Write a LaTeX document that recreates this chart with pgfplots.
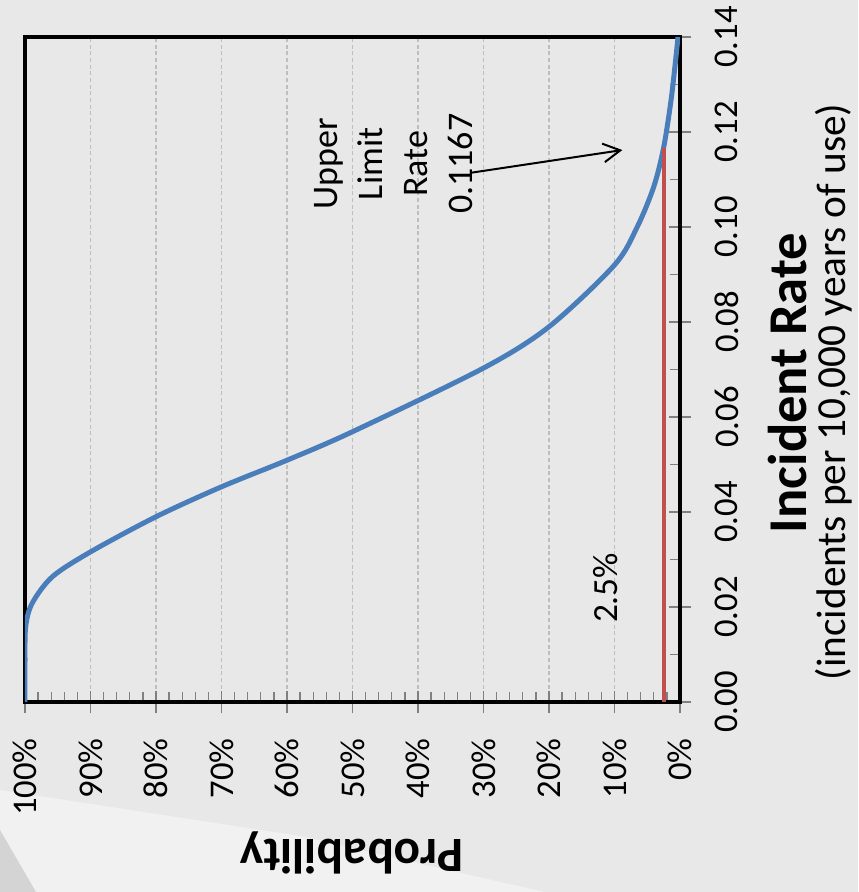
\documentclass[border=0pt]{standalone}
\usepackage{pgfplots}
\pgfplotsset{compat=1.18}
\usepackage{fontspec}
\setmainfont{Carlito}
\usetikzlibrary{arrows.meta}
\definecolor{bg}{HTML}{E8E8E8}
\definecolor{bglight}{HTML}{F1F1F1}
\definecolor{bgdark}{HTML}{D4D4D4}
\definecolor{curveblue}{HTML}{4A7EBB}
\definecolor{limitred}{HTML}{C0504D}
\definecolor{gridgray}{HTML}{BEBEBE}
\begin{document}
\begin{tikzpicture}
% page background (1px = 0.75pt)
\fill[bg] (0,0) rectangle (643.5pt,669pt);
\fill[bglight] (0,76.5pt) -- (225pt,42pt) -- (322.5pt,19.5pt) -- (408.75pt,0) -- (0,0) -- cycle;
\fill[bgdark] (0,46.5pt) -- (27pt,0) -- (0,0) -- cycle;
\useasboundingbox (0,0) rectangle (643.5pt,669pt);

\begin{axis}[
    at={(18.75pt,142.5pt)}, anchor=south west,
    scale only axis,
    width=491.25pt, height=498.75pt,
    xmin=0, xmax=100,
    ymin=0, ymax=0.14,
    x dir=reverse,
    xtick={0,10,20,30,40,50,60,70,80,90,100},
    xticklabels={0\%,10\%,20\%,30\%,40\%,50\%,60\%,70\%,80\%,90\%,100\%},
    ytick={0,0.02,0.04,0.06,0.08,0.1,0.12,0.14},
    yticklabels={0.00,0.02,0.04,0.06,0.08,0.10,0.12,0.14},
    minor x tick num=4,
    minor y tick num=1,
    xtick pos=left, ytick pos=right,
    xticklabel pos=left, yticklabel pos=right,
    tick align=inside,
    major tick length=17pt,
    minor tick length=7.5pt,
    major x tick style={yshift=-8.5pt},
    major y tick style={xshift=8.5pt},
    tick style={color=gray, line width=1pt},
    axis line style={line width=3pt, black},
    xmajorgrids,
    major grid style={gridgray, densely dashed, line width=0.8pt},
    xticklabel style={rotate=90, anchor=east, inner sep=0pt,
        font=\fontsize{26}{30}\selectfont},
    yticklabel style={rotate=90, anchor=north, inner sep=0pt,
        font=\fontsize{26}{30}\selectfont},
    xticklabel shift=27pt,
    yticklabel shift=26pt,
]
    % exceedance probability of the incident rate
    \addplot[curveblue, line width=3.75pt, smooth] coordinates {
        (100,0) (100,0.008) (99.9,0.0158) (98.9,0.0208) (95.8,0.0264)
        (90.0,0.0316) (80.0,0.0390) (70.0,0.0453) (60.0,0.0509)
        (50.0,0.0569) (30.0,0.0703) (20.0,0.0790) (10.0,0.0920)
        (6.5,0.1001) (4.0,0.1085) (2.5,0.1167) (1.3,0.1274) (0.3,0.14)
    };
    % 2.5% upper limit
    \addplot[limitred, line width=3pt] coordinates {(2.5,0) (2.5,0.1167)};

    \node[rotate=90, align=center, font=\fontsize{27}{33.75}\selectfont]
        at (axis cs:43.8,0.1133) {Upper\\Limit\\Rate\\0.1167};
    \draw[line width=1.5pt, -{Straight Barb[length=12.75pt, width=14pt]}]
        (axis cs:32.0,0.1114) -- (axis cs:8.8,0.1162);
    \node[rotate=90, font=\fontsize{26.5}{30}\selectfont]
        at (axis cs:11.3,0.024) {2.5\%};
\end{axis}

\node[rotate=180, font=\bfseries\fontsize{37}{40}\selectfont]
    at (264pt,29.25pt) {Probability};
\node[rotate=90, font=\bfseries\fontsize{41}{44}\selectfont]
    at (591pt,381.75pt) {Incident Rate};
\node[rotate=90, font=\fontsize{31}{34}\selectfont]
    at (625.5pt,375pt) {(incidents per 10,000 years of use)};
\end{tikzpicture}
\end{document}
